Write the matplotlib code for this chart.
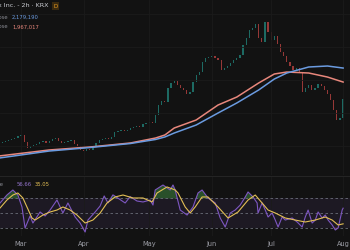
import numpy as np
import matplotlib.pyplot as plt
from matplotlib.lines import Line2D

# daily closes (thousand KRW), bar index 0 = Feb 21
closes = [1044, 1059, 1074, 1089, 1104, 1119, 1150, 1165, 1059, 968,
          998, 1013, 1028, 1059, 1074, 1044, 1074, 1104, 1119, 1074,
          1044, 1059, 1074, 1089, 1028, 998, 938, 922, 953, 938,
          983, 1044, 1089, 1104, 1119, 1104, 1134, 1210, 1225, 1241,
          1225, 1241, 1271, 1286, 1301, 1286, 1331, 1347, 1362, 1347,
          1468, 1619, 1680, 1665, 1877, 1953, 1983, 1922, 1877, 1847,
          1786, 1816, 1968, 2074, 2119, 2271, 2331, 2346, 2362, 2331,
          2301, 2150, 2180, 2210, 2256, 2301, 2331, 2377, 2528, 2634,
          2756, 2786, 2846, 2634, 2574, 2877, 2725, 2604, 2665, 2543,
          2422, 2362, 2271, 2210, 2150, 2180, 2119, 1816, 1877, 1922,
          1847, 1877, 1937, 1907, 1847, 1786, 1695, 1544, 1392, 1422,
          1710]
first_open = 1028

# moving averages (thousand KRW)
ma_pos = [0, 16, 29, 42, 50, 53, 56, 63, 70, 76, 83, 88, 92, 99, 105, 110]
ma_fast = [847, 938, 983, 1044, 1119, 1165, 1271, 1392, 1619, 1740,
           1953, 2089, 2119, 2104, 2043, 1967.017]
ma_slow = [816, 922, 975, 1036, 1097, 1135, 1195, 1316, 1498, 1650,
           1847, 2013, 2104, 2195, 2210, 2179.19]

# RSI and its moving average
rsi_pos = [0.3, 2.5, 4.4, 6.0, 7.3, 8.3, 9.9, 10.8, 13.1, 14.7, 16.3, 18.5,
           20.4, 22.0, 24.3, 25.9, 27.5, 28.4, 30.7, 32.3, 33.6, 34.8, 36.4,
           38.0, 40.3, 41.9, 44.1, 46.0, 48.3, 49.2, 49.9, 52.4, 54.7, 55.6,
           56.3, 57.9, 60.1, 62.0, 63.6, 64.9, 66.8, 69.1, 70.7, 72.3, 73.9,
           75.5, 77.1, 78.7, 79.6, 81.2, 82.5, 82.8, 84.1, 85.1, 86.0, 87.3,
           88.3, 89.2, 90.5, 91.5, 93.7, 95.3, 96.9, 97.9, 98.8, 100.1, 101.1,
           102.0, 103.3, 104.3, 105.2, 106.5, 107.5, 108.4, 109.7, 110.0]
rsi_val = [63.8, 74.8, 81.7, 74.8, 58.3, 29.3, 45.9, 36.2, 51.4, 45.9, 54.1,
           67.9, 50.0, 63.8, 44.5, 36.2, 23.8, 40.3, 51.4, 59.7, 73.5, 63.8,
           75.0, 70.5, 63.8, 72.5, 66.5, 65.2, 67.9, 61.0, 81.7, 88.6, 81.7,
           88.6, 81.7, 54.1, 47.2, 58.3, 77.6, 81.7, 70.7, 63.8, 43.1, 30.7,
           50.0, 54.1, 61.0, 72.1, 79.0, 72.1, 63.8, 50.0, 63.8, 54.1, 44.5,
           50.0, 40.3, 30.7, 44.5, 40.3, 43.1, 37.6, 30.7, 44.5, 54.1, 36.2,
           40.3, 51.4, 43.1, 47.2, 40.3, 33.5, 26.6, 29.3, 54.1, 56.66]
rsi_ma_pos = [0.3, 2.5, 4.4, 6.0, 7.6, 8.9, 10.5, 11.5, 14.0, 16.3, 18.5,
              20.4, 22.7, 24.9, 27.5, 30.0, 32.3, 34.5, 37.1, 39.6, 42.8,
              46.0, 48.9, 50.5, 53.7, 56.3, 57.2, 59.5, 61.1, 62.7, 64.9,
              66.8, 70.0, 73.2, 76.4, 79.6, 81.9, 84.1, 86.0, 88.3, 91.5,
              94.7, 97.9, 101.1, 104.3, 106.5, 108.4, 110.0]
rsi_ma = [56.9, 67.9, 74.8, 77.6, 70.7, 58.3, 43.1, 40.3, 47.2, 51.4, 54.1,
          58.3, 54.1, 47.2, 36.2, 40.3, 50.0, 63.8, 72.1, 74.8, 70.7, 70.7,
          65.2, 77.6, 85.9, 81.7, 77.6, 58.3, 50.0, 58.3, 72.1, 72.1, 58.3,
          43.1, 51.4, 67.9, 74.8, 63.8, 54.1, 50.0, 43.1, 40.3, 37.6, 40.3,
          44.5, 40.3, 33.5, 35.05]

month_bar = [7, 27, 48, 68, 87, 110]
month_lbl = ['Mar', 'Apr', 'May', 'Jun', 'Jul', 'Aug']

bg = '#121212'
up_c, dn_c = '#26a69a', '#ef5350'
fast_c, slow_c = '#e8877c', '#6b9be0'
rsi_c, rsi_ma_c = '#7e57c2', '#e3bf55'

fig = plt.figure(figsize=(3.5, 2.5), dpi=100, facecolor=bg)
ax = fig.add_axes([0, 0.30, 1, 0.70], facecolor=bg)
ax2 = fig.add_axes([0, 0.056, 1, 0.24], facecolor=bg, sharex=ax)

# candles
opens = [first_open] + closes[:-1]
x = np.arange(len(closes))
diff = np.array(closes) - np.array(opens)
cols = [up_c if d >= 0 else dn_c for d in diff]
ax.bar(x, diff, bottom=opens, width=0.4, color=cols, alpha=0.6, linewidth=0)
ax.plot(ma_pos, ma_fast, color=fast_c, lw=1.1)
ax.plot(ma_pos, ma_slow, color=slow_c, lw=1.1)

ax.set_xlim(0.28, 112.2)
ax.set_ylim(559, 3210)
ax.set_yticks([1000, 1500, 2000, 2500, 3000])
ax.set_xticks(month_bar)
ax.grid(True, color='#1b1b1b', lw=0.6)
ax.tick_params(length=0, labelbottom=False, labelleft=False)
for s in ax.spines.values():
    s.set_visible(False)

# RSI pane
ax2.axhspan(30, 70, color=rsi_c, alpha=0.1, lw=0)
for lv in [70, 50, 30]:
    ax2.axhline(lv, color='#6a6d78', lw=0.6, ls=(0, (3, 3)))
rp = np.array(rsi_pos)
rv = np.array(rsi_val)
ax2.fill_between(rp, 70, rv, where=rv > 70, interpolate=True, color='#4caf50', alpha=0.4, lw=0)
ax2.fill_between(rp, 30, rv, where=rv < 30, interpolate=True, color='#ef5350', alpha=0.3, lw=0)
ax2.plot(rsi_pos, rsi_val, color=rsi_c, lw=0.8)
ax2.plot(rsi_ma_pos, rsi_ma, color=rsi_ma_c, lw=0.8)
ax2.set_ylim(18.3, 101)
ax2.set_xticks(month_bar)
ax2.set_xticklabels(month_lbl, color='#9a9ca4', fontsize=4.8)
ax2.grid(True, axis='x', color='#1b1b1b', lw=0.6)
ax2.tick_params(length=0, pad=3.5, labelleft=False)
for s in ax2.spines.values():
    s.set_visible(False)

fig.add_artist(Line2D([0, 1], [0.298, 0.298], color='#242424', lw=0.8))

# legend texts
fx = lambda px: px / 350
fy = lambda py: 1 - py / 250
fs = 4.6
fv = 3.8
fig.text(fx(48), fy(6), 'SK hynix Inc. - 2h · KRX', ha='right', va='center',
         color='#c9cbd1', fontsize=fs)
fig.text(fx(55.5), fy(6), 'D', ha='center', va='center', color='#f0a020', fontsize=4,
         bbox=dict(boxstyle='square,pad=0.3', fc='#3a2a10', ec='none'))
fig.text(fx(8), fy(17), 'SMA close', ha='right', va='center', color='#8a8c94', fontsize=fv)
fig.text(fx(12), fy(17), f'{ma_slow[-1] * 1000:,.0f}', ha='left', va='center',
         color=slow_c, fontsize=fv)
fig.text(fx(8), fy(27), 'SMA close', ha='right', va='center', color='#8a8c94', fontsize=fv)
fig.text(fx(12), fy(27), f'{ma_fast[-1] * 1000:,.0f}', ha='left', va='center',
         color=fast_c, fontsize=fv)
fig.text(fx(3), fy(184), 'RSI 14 close', ha='right', va='center', color='#8a8c94', fontsize=fv)
fig.text(fx(17), fy(184), f'{rsi_val[-1]:.2f}', ha='left', va='center',
         color='#9575cd', fontsize=fv)
fig.text(fx(35), fy(184), f'{rsi_ma[-1]:.2f}', ha='left', va='center',
         color=rsi_ma_c, fontsize=fv)

fig.savefig('out.png', dpi=100, facecolor=bg)
